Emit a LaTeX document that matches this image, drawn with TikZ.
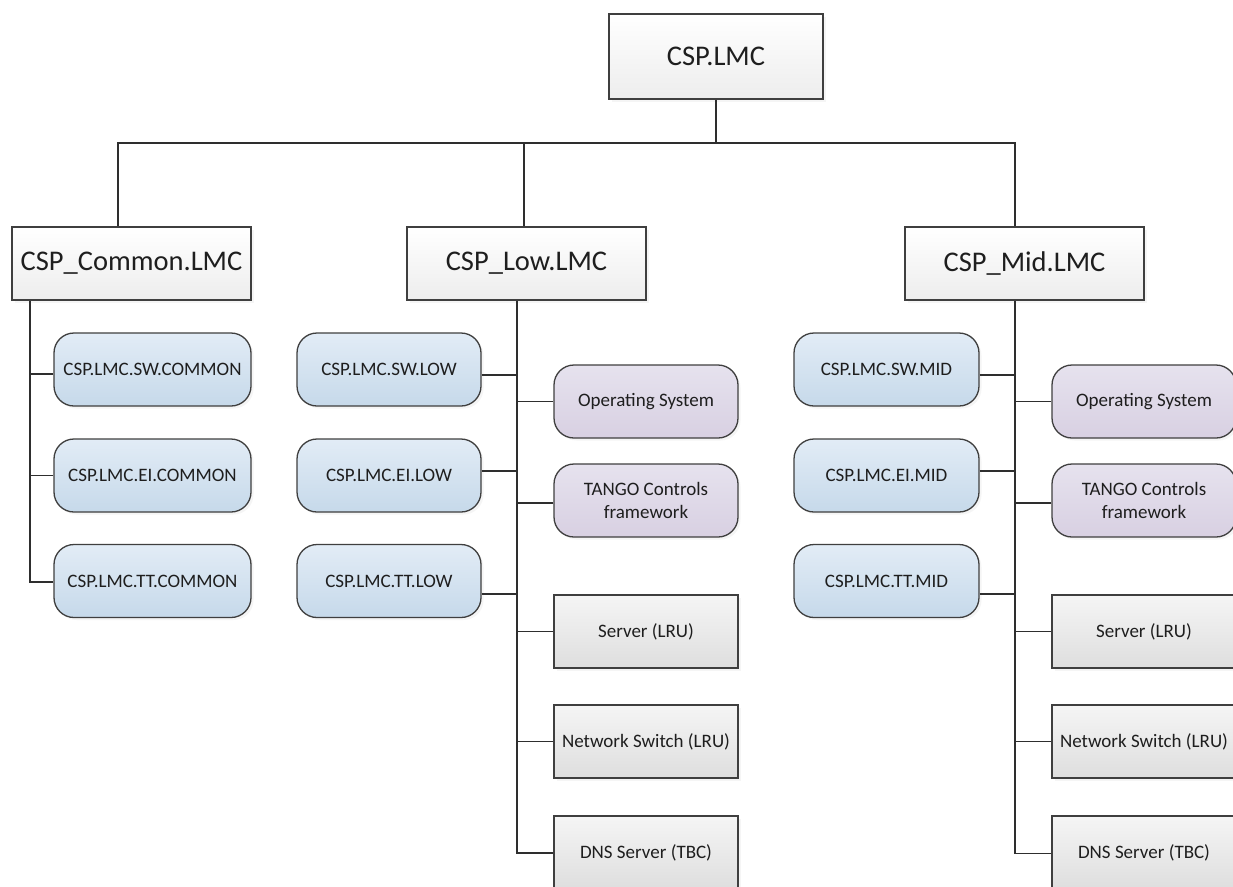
\documentclass[tikz,border=0pt]{standalone}
\usepackage{fontspec}
\setmainfont{Carlito}
\usetikzlibrary{shadows}
\definecolor{edge}{HTML}{3F3F3F}
\definecolor{wire}{HTML}{2E2E2E}
\definecolor{blueT}{HTML}{E2ECF6}
\definecolor{blueB}{HTML}{C6D9EA}
\definecolor{purT}{HTML}{E6E2EE}
\definecolor{purB}{HTML}{D8D0E2}
\definecolor{grayT}{HTML}{F5F5F5}
\definecolor{grayB}{HTML}{DEDEDE}
\definecolor{hdrB}{HTML}{EDEDED}
\definecolor{txt}{HTML}{1E1E1E}
\begin{document}
\begin{tikzpicture}[x=1pt,y=-1pt,
  base/.style={draw=edge, line width=1.3pt, inner sep=0pt, text=txt, align=center,
    drop shadow={opacity=0.08, shadow xshift=2.5pt, shadow yshift=-2.5pt}},
  hdr/.style={base, rectangle, top color=white, bottom color=hdrB,
    font=\fontsize{28.5}{32}\selectfont, minimum width=239pt, minimum height=73pt},
  swbox/.style={base, rounded corners=20pt, top color=blueT, bottom color=blueB,
    font=\fontsize{19}{22.5}\selectfont, minimum height=73pt},
  osbox/.style={base, rounded corners=20pt, top color=purT, bottom color=purB,
    font=\fontsize{19}{22.5}\selectfont, minimum width=184pt, minimum height=73pt},
  hwbox/.style={base, rectangle, top color=grayT, bottom color=grayB,
    font=\fontsize{19}{22.5}\selectfont, minimum width=184pt, minimum height=73pt},
  wire/.style={draw=wire, line width=1.8pt}]
\useasboundingbox (0,0) rectangle (1233,886);
\fill[white] (0,0) rectangle (1233,886);

% headers
\node[hdr, minimum width=214pt, minimum height=85pt] (root) at (716,56.5) {CSP.LMC};
\node[hdr] (common) at (131.5,263.5) {CSP\_Common.LMC};
\node[hdr] (low) at (526.5,263.5) {CSP\_Low.LMC};
\node[hdr] (mid) at (1024.5,263.5) {CSP\_Mid.LMC};

% common children
\node[swbox, minimum width=197pt] (cSW) at (152.5,369.5) {CSP.LMC.SW.COMMON};
\node[swbox, minimum width=197pt] (cEI) at (152.5,475.5) {CSP.LMC.EI.COMMON};
\node[swbox, minimum width=197pt] (cTT) at (152.5,581) {CSP.LMC.TT.COMMON};

% low children
\node[swbox, minimum width=184pt] (lSW) at (389,369.5) {CSP.LMC.SW.LOW};
\node[swbox, minimum width=184pt] (lEI) at (389,475.5) {CSP.LMC.EI.LOW};
\node[swbox, minimum width=184pt] (lTT) at (389,581) {CSP.LMC.TT.LOW};
\node[osbox] (lOS) at (646,401.5) {Operating System};
\node[osbox] (lTG) at (646,500.5) {TANGO Controls\\framework};
\node[hwbox] (lSV) at (646,631.5) {Server (LRU)};
\node[hwbox] (lNS) at (646,741.5) {Network Switch (LRU)};
\node[hwbox] (lDN) at (646,852.5) {DNS Server (TBC)};

% mid children
\node[swbox, minimum width=185pt] (mSW) at (886.5,369.5) {CSP.LMC.SW.MID};
\node[swbox, minimum width=185pt] (mEI) at (886.5,475.5) {CSP.LMC.EI.MID};
\node[swbox, minimum width=185pt] (mTT) at (886.5,581) {CSP.LMC.TT.MID};
\node[osbox] (mOS) at (1144,401.5) {Operating System};
\node[osbox] (mTG) at (1144,500.5) {TANGO Controls\\framework};
\node[hwbox] (mSV) at (1144,631.5) {Server (LRU)};
\node[hwbox] (mNS) at (1144,741.5) {Network Switch (LRU)};
\node[hwbox] (mDN) at (1144,852.5) {DNS Server (TBC)};

% bus
\coordinate (cdrop) at (118,143);
\coordinate (ldrop) at (524,143);
\coordinate (mdrop) at (1015,143);
\coordinate (cstem) at (30,0);
\coordinate (lstem) at (517,0);
\coordinate (mstem) at (1015,0);

\draw[wire] (root.south) -- (root.south |- cdrop);
\draw[wire] (cdrop |- common.north) -- (cdrop) -- (mdrop) -- (mdrop |- mid.north);
\draw[wire] (ldrop) -- (ldrop |- low.north);

% common stem
\draw[wire] (cstem |- common.south) |- ([yshift=-1pt]cTT.west);
\draw[wire] ([yshift=-4.5pt]cSW.west) -- ([yshift=-4.5pt]cSW.west -| cstem);
\draw[wire] (cEI.west) -- (cEI.west -| cstem);

% low stem
\draw[wire] (lstem |- low.south) |- ([yshift=-0.5pt]lDN.west);
\draw[wire] ([yshift=-5.5pt]lSW.east) -- ([yshift=-5.5pt]lSW.east -| lstem);
\draw[wire] ([yshift=4.5pt]lEI.east) -- ([yshift=4.5pt]lEI.east -| lstem);
\draw[wire] ([yshift=-13pt]lTT.east) -- ([yshift=-13pt]lTT.east -| lstem);
\draw[wire] (lOS.west) -- (lOS.west -| lstem);
\draw[wire] ([yshift=-2.5pt]lTG.west) -- ([yshift=-2.5pt]lTG.west -| lstem);
\draw[wire] (lSV.west) -- (lSV.west -| lstem);
\draw[wire] (lNS.west) -- (lNS.west -| lstem);

% mid stem
\draw[wire] (mstem |- mid.south) |- ([yshift=-1pt]mDN.west);
\draw[wire] ([yshift=-5.5pt]mSW.east) -- ([yshift=-5.5pt]mSW.east -| mstem);
\draw[wire] ([yshift=4.5pt]mEI.east) -- ([yshift=4.5pt]mEI.east -| mstem);
\draw[wire] ([yshift=-13pt]mTT.east) -- ([yshift=-13pt]mTT.east -| mstem);
\draw[wire] (mOS.west) -- (mOS.west -| mstem);
\draw[wire] ([yshift=-2.5pt]mTG.west) -- ([yshift=-2.5pt]mTG.west -| mstem);
\draw[wire] (mSV.west) -- (mSV.west -| mstem);
\draw[wire] (mNS.west) -- (mNS.west -| mstem);
\end{tikzpicture}
\end{document}
